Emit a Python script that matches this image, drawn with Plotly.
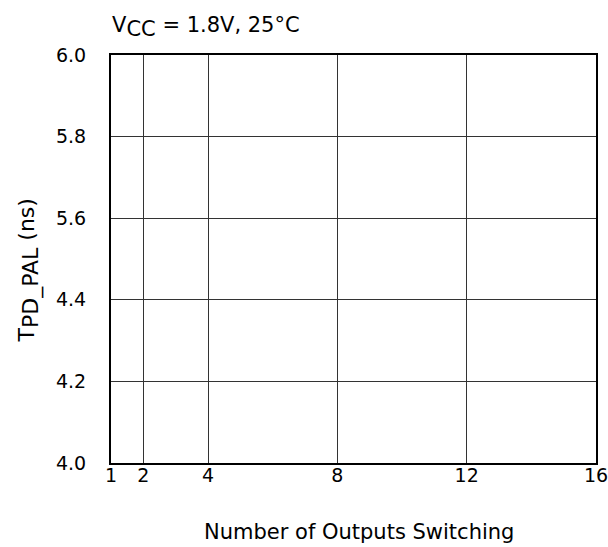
import plotly.graph_objects as go

# Data
x_ticks = [1, 2, 4, 8, 12, 16]
y_tick_labels = ["4.0", "4.2", "4.4", "5.6", "5.8", "6.0"]
title_text = "V<sub><span style='font-size:21px'>CC</span></sub> = 1.8V, 25°C"
x_title = "Number of Outputs Switching"
y_title = "T<sub><span style='font-size:22px'>PD_PAL</span></sub> (ns)"

FONT = "DejaVu Sans, Arial, sans-serif"
W, H = 608, 547
L, R, T, B = 111, 12, 55, 84
pw = W - L - R
ph = H - T - B

y_pos = list(range(len(y_tick_labels)))

fig = go.Figure()
# invisible trace to anchor axes
fig.add_trace(go.Scatter(x=[x_ticks[0], x_ticks[-1]], y=[y_pos[0], y_pos[-1]],
                         mode="markers", marker=dict(opacity=0), hoverinfo="skip",
                         showlegend=False))

fig.update_layout(
    width=W, height=H,
    margin=dict(l=L, r=R, t=T, b=B, autoexpand=False),
    paper_bgcolor="white", plot_bgcolor="white",
    font=dict(family=FONT, color="black", size=19),
    showlegend=False,
)
fig.update_xaxes(
    range=[x_ticks[0], x_ticks[-1]],
    tickvals=x_ticks, ticktext=[str(v) for v in x_ticks],
    showgrid=True, gridcolor="#333333", gridwidth=1,
    showline=True, linecolor="black", linewidth=2, mirror=True,
    ticks="", zeroline=False, automargin=False, ticklabeloverflow="allow",
    tickfont=dict(size=19, family=FONT), ticklabelstandoff=-6,
)
fig.update_yaxes(
    range=[y_pos[0], y_pos[-1]],
    tickvals=y_pos, ticktext=y_tick_labels,
    showgrid=True, gridcolor="#333333", gridwidth=1,
    showline=True, linecolor="black", linewidth=2, mirror=True,
    ticks="", zeroline=False, automargin=False, ticklabeloverflow="allow",
    tickfont=dict(size=19, family=FONT), ticklabelstandoff=19,
)

fig.add_annotation(text=title_text, xref="paper", yref="paper",
                   x=-1 / pw, y=1 + (T - 11) / ph, xanchor="left", yanchor="top",
                   showarrow=False, font=dict(size=21, family=FONT))
fig.add_annotation(text=x_title, xref="paper", yref="paper",
                   x=(359 - L) / pw, y=-(546 - T - ph) / ph, xanchor="center", yanchor="bottom",
                   showarrow=False, font=dict(size=21, family=FONT))
fig.add_annotation(text=y_title, xref="paper", yref="paper",
                   x=-(L - 11) / pw, y=1 - (271 - T) / ph, xanchor="left", yanchor="middle",
                   textangle=-90, showarrow=False, font=dict(size=22, family=FONT))

fig.write_html("out.html", config={"displayModeBar": False},
               post_script="document.body.style.margin='0';document.body.style.overflow='hidden';")
